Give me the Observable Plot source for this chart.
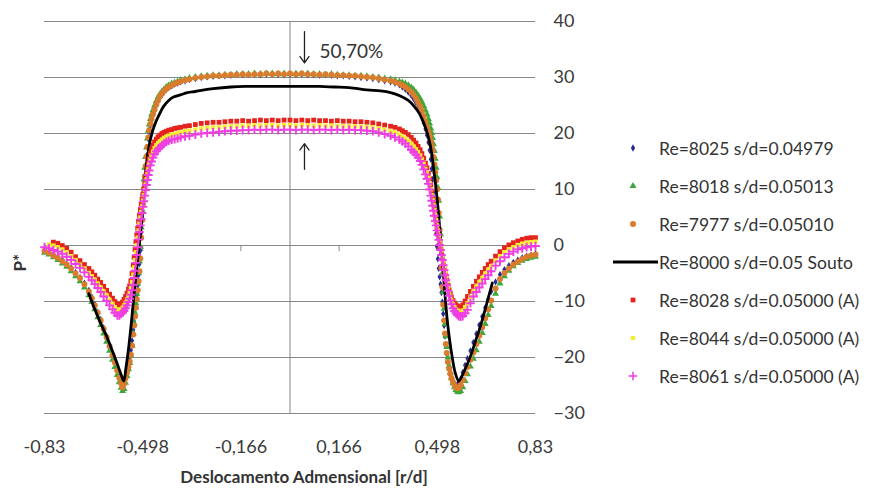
<!DOCTYPE html>
<html>
<head>
<meta charset="utf-8">
<script src="https://cdn.jsdelivr.net/npm/d3@7"></script>
<script src="https://cdn.jsdelivr.net/npm/@observablehq/plot@0.6"></script>
<style>
  html, body { margin: 0; padding: 0; background: #fff; }
  #wrap { position: relative; width: 876px; height: 494px; font-family: Lato, "Open Sans", sans-serif; }
  #chart { position: absolute; left: 0; top: 0; }
  #legend { position: absolute; left: 600px; top: 129px; }
  .row { position: relative; height: 38px; display: flex; align-items: center; }
  .row svg { width: 59px; height: 20px; flex: none; }
  .row span { font-size: 17.5px; color: #333; white-space: nowrap; }
</style>
</head>
<body>
<div id="wrap">
  <div id="chart"></div>
  <div id="legend"></div>
</div>
<script>
// Radial positions r/d shared by the six measured series
const xExp = [
  -0.83, -0.815, -0.8, -0.785, -0.77, -0.755, -0.74, -0.725, -0.71, -0.695,
  -0.68, -0.67, -0.66, -0.65, -0.64, -0.63, -0.62, -0.61, -0.6, -0.592,
  -0.584, -0.577, -0.571, -0.566, -0.561, -0.556, -0.551, -0.546, -0.542, -0.538,
  -0.534, -0.53, -0.527, -0.524, -0.521, -0.518, -0.515, -0.512, -0.509, -0.506,
  -0.503, -0.5, -0.497, -0.494, -0.491, -0.488, -0.485, -0.482, -0.479, -0.476,
  -0.472, -0.468, -0.463, -0.458, -0.452, -0.446, -0.44, -0.433, -0.426, -0.418,
  -0.41, -0.4, -0.39, -0.38, -0.37, -0.355, -0.34, -0.32, -0.3, -0.28,
  -0.26, -0.24, -0.22, -0.2, -0.18, -0.16, -0.14, -0.12, -0.1, -0.08,
  -0.06, -0.04, -0.02,
  0,
  0.02, 0.04, 0.06,
  0.08, 0.1, 0.12, 0.14, 0.16, 0.18, 0.2, 0.22, 0.24, 0.26,
  0.28, 0.3, 0.32, 0.34, 0.355, 0.37, 0.38, 0.39, 0.4, 0.41,
  0.418, 0.426, 0.433, 0.44, 0.446, 0.452, 0.458, 0.463, 0.468, 0.472,
  0.476, 0.479, 0.482, 0.485, 0.488, 0.491, 0.494, 0.497, 0.5, 0.503,
  0.506, 0.509, 0.512, 0.515, 0.518, 0.521, 0.524, 0.527, 0.53, 0.534,
  0.538, 0.542, 0.546, 0.551, 0.556, 0.561, 0.566, 0.571, 0.577, 0.584,
  0.592, 0.6, 0.61, 0.62, 0.63, 0.64, 0.65, 0.66, 0.67, 0.68,
  0.695, 0.71, 0.725, 0.74, 0.755, 0.77, 0.785, 0.8, 0.815, 0.83
];

// Re=8025 s/d=0.04979
const yRe8025 = [
  -0.8, -1.2, -1.6, -2.1, -2.6, -3.3, -4.0, -4.8, -5.7, -6.7,
  -8.0, -9.2, -10.5, -11.9, -13.2, -14.7, -16.2, -17.8, -19.4, -20.7,
  -22.1, -23.4, -24.4, -25.0, -24.5, -23.4, -22.3, -21.2, -20.0, -18.7,
  -17.0, -15.1, -13.6, -12.0, -10.4, -8.8, -7.1, -5.3, -3.3, -0.9,
  2.3, 5.2, 7.9, 10.4, 12.5, 14.3, 16.0, 17.5, 19.0, 20.3,
  21.4, 22.4, 23.3, 24.1, 25.0, 25.7, 26.4, 27.0, 27.5, 27.9,
  28.2, 28.5, 28.8, 29.0, 29.2, 29.4, 29.6, 29.8, 30.0, 30.1,
  30.2, 30.3, 30.3, 30.4, 30.5, 30.5, 30.5, 30.6, 30.5, 30.6,
  30.6, 30.6, 30.5,
  30.6,
  30.5, 30.6, 30.5,
  30.5, 30.4, 30.5, 30.4, 30.3, 30.3, 30.2, 30.1, 30.0, 29.9,
  29.8, 29.6, 29.4, 29.2, 29.0, 28.7, 28.3, 27.9, 27.4, 26.8,
  26.2, 25.5, 24.7, 23.8, 22.9, 21.9, 20.8, 19.7, 18.4, 17.0,
  15.4, 13.7, 11.8, 9.5, 7.0, 4.5, 2.1, -0.2, -2.4, -4.1,
  -5.6, -6.9, -8.4, -10.1, -12.2, -14.3, -16.2, -17.9, -19.4, -20.9,
  -22.0, -22.9, -23.6, -24.3, -24.7, -24.9, -24.8, -24.4, -23.8, -22.7,
  -21.4, -20.2, -18.8, -17.3, -15.8, -14.2, -12.7, -11.1, -9.6, -8.2,
  -6.5, -5.2, -4.3, -3.6, -3.0, -2.6, -2.2, -1.9, -1.7, -1.5
];

// Re=8018 s/d=0.05013
const yRe8018 = [
  -1.3, -1.6, -2.1, -2.6, -3.2, -3.8, -4.6, -5.5, -6.4, -7.5,
  -8.9, -10.1, -11.4, -12.8, -14.2, -15.7, -17.2, -18.8, -20.4, -21.7,
  -23.1, -24.4, -25.4, -26.0, -25.6, -24.5, -23.3, -22.1, -21.0, -19.7,
  -17.9, -15.7, -13.9, -12.1, -10.3, -8.6, -6.8, -4.9, -2.8, -0.2,
  3.2, 6.4, 9.3, 11.8, 13.9, 15.8, 17.5, 19.1, 20.5, 21.6,
  22.6, 23.4, 24.2, 25.0, 25.8, 26.5, 27.0, 27.5, 27.9, 28.3,
  28.6, 28.9, 29.1, 29.3, 29.5, 29.7, 29.9, 30.1, 30.2, 30.3,
  30.4, 30.4, 30.5, 30.5, 30.6, 30.6, 30.6, 30.7, 30.6, 30.7,
  30.7, 30.6, 30.7,
  30.6,
  30.7, 30.6, 30.7,
  30.6, 30.6, 30.5, 30.6, 30.5, 30.4, 30.4, 30.3, 30.3, 30.2,
  30.1, 30.0, 29.8, 29.7, 29.5, 29.3, 29.1, 28.9, 28.6, 28.2,
  27.8, 27.3, 26.8, 26.2, 25.6, 24.9, 24.1, 23.4, 22.6, 21.8,
  20.9, 20.1, 19.2, 18.1, 16.9, 15.5, 13.9, 12.2, 10.3, 8.0,
  5.2, 2.0, -1.5, -5.0, -8.3, -11.3, -14.0, -16.2, -18.1, -20.0,
  -21.5, -22.7, -23.7, -24.6, -25.3, -25.8, -26.1, -26.2, -26.0, -25.3,
  -24.2, -23.0, -21.6, -20.2, -18.7, -17.2, -15.6, -14.0, -12.4, -10.8,
  -8.6, -6.8, -5.5, -4.5, -3.7, -3.1, -2.7, -2.4, -2.2, -2.0
];

// Re=7977 s/d=0.05010
const yRe7977 = [
  -1.0, -1.3, -1.8, -2.2, -2.8, -3.4, -4.1, -5.0, -5.8, -6.9,
  -8.2, -9.4, -10.7, -12.0, -13.4, -14.9, -16.4, -18.0, -19.6, -20.9,
  -22.3, -23.6, -24.6, -25.3, -24.7, -23.7, -22.7, -21.7, -20.7, -19.5,
  -17.9, -15.9, -14.3, -12.7, -11.1, -9.6, -8.0, -6.4, -4.6, -2.3,
  1.4, 4.5, 7.4, 10.1, 12.3, 14.2, 15.9, 17.6, 19.3, 20.6,
  21.7, 22.6, 23.5, 24.3, 25.2, 25.9, 26.6, 27.1, 27.6, 28.0,
  28.3, 28.6, 28.9, 29.1, 29.3, 29.5, 29.7, 29.9, 30.1, 30.2,
  30.3, 30.3, 30.4, 30.5, 30.5, 30.6, 30.5, 30.6, 30.6, 30.7,
  30.6, 30.7, 30.6,
  30.7,
  30.6, 30.7, 30.6,
  30.6, 30.5, 30.6, 30.5, 30.4, 30.4, 30.3, 30.3, 30.2, 30.1,
  30.0, 29.8, 29.6, 29.4, 29.2, 28.9, 28.6, 28.3, 27.9, 27.4,
  26.9, 26.3, 25.6, 24.8, 24.0, 23.1, 22.1, 21.2, 20.3, 19.5,
  18.6, 17.8, 16.9, 15.8, 14.5, 13.1, 11.6, 10.0, 8.2, 5.8,
  2.8, -0.5, -4.0, -7.4, -10.6, -13.4, -15.7, -17.6, -19.2, -20.8,
  -22.0, -22.9, -23.7, -24.4, -24.9, -25.3, -25.5, -25.4, -24.9, -24.0,
  -22.8, -21.7, -20.4, -19.1, -17.6, -16.1, -14.6, -13.0, -11.4, -9.8,
  -7.7, -6.0, -4.9, -4.1, -3.4, -2.9, -2.4, -2.0, -1.8, -1.6
];

// Re=8000 s/d=0.05 Souto (reference curve)
const xSouto = [
  -0.68, -0.66, -0.64, -0.62, -0.6, -0.585, -0.572, -0.562, -0.555, -0.545,
  -0.536, -0.528, -0.52, -0.511, -0.505, -0.5, -0.494, -0.488, -0.48, -0.472,
  -0.463, -0.455, -0.44, -0.428, -0.41, -0.394, -0.37, -0.347, -0.32, -0.3,
  -0.26, -0.2, -0.15, -0.1, -0.05, 0, 0.05, 0.1, 0.15, 0.2,
  0.26, 0.306, 0.34, 0.373, 0.4, 0.419, 0.437, 0.452, 0.465, 0.475,
  0.485, 0.498, 0.511, 0.52, 0.526, 0.531, 0.54, 0.548, 0.558, 0.571,
  0.59, 0.61, 0.627, 0.644, 0.664, 0.684
];
const ySouto = [
  -8.6, -11.4, -13.9, -16.2, -18.9, -21.0, -22.9, -24.2, -22.0, -18.0,
  -13.6, -9.1, -5.0, -0.7, 2.4, 5.1, 10.0, 13.3, 16.6, 18.9,
  20.7, 21.9, 23.6, 24.8, 25.9, 26.5, 26.9, 27.3, 27.5, 27.7,
  28.0, 28.3, 28.4, 28.4, 28.4, 28.4, 28.4, 28.4, 28.3, 28.2,
  27.8, 27.6, 27.3, 26.7, 25.9, 24.9, 23.6, 21.9, 19.9, 17.7,
  14.0, 8.0, 0.0, -6.0, -10.0, -13.0, -17.0, -19.8, -22.6, -24.2,
  -22.3, -19.8, -17.1, -14.4, -10.6, -6.7
];

// Re=8028 s/d=0.05000 (A)
const yRe8028 = [
  null, null, 0.6, 0.4, 0.0, -0.5, -1.2, -2.0, -2.7, -3.4,
  -4.1, -4.7, -5.3, -6.0, -6.6, -7.3, -8.0, -8.7, -9.4, -10.0,
  -10.4, -10.7, -10.5, -10.1, -9.6, -9.1, -8.5, -7.8, -7.2, -6.3,
  -5.0, -3.5, -2.1, -0.7, 0.7, 1.9, 3.1, 4.3, 5.4, 6.4,
  7.4, 8.3, 9.2, 10.1, 11.0, 11.9, 12.8, 13.7, 14.6, 15.5,
  16.5, 17.2, 17.9, 18.5, 19.0, 19.4, 19.7, 20.0, 20.2, 20.4,
  20.6, 20.7, 20.9, 21.0, 21.1, 21.3, 21.4, 21.6, 21.8, 21.9,
  22.0, 22.0, 22.1, 22.2, 22.2, 22.3, 22.2, 22.3, 22.4, 22.3,
  22.4, 22.3, 22.4,
  22.4,
  22.3, 22.4, 22.3,
  22.4, 22.3, 22.3, 22.2, 22.3, 22.2, 22.2, 22.1, 22.1, 22.0,
  21.9, 21.7, 21.5, 21.3, 21.1, 20.8, 20.5, 20.2, 19.8, 19.3,
  18.8, 18.3, 17.7, 17.1, 16.4, 15.6, 14.7, 13.9, 12.9, 11.9,
  10.8, 9.6, 8.6, 7.5, 6.4, 5.3, 4.3, 3.3, 2.4, 1.5,
  0.5, -0.4, -1.3, -2.2, -3.0, -3.8, -4.6, -5.4, -6.2, -7.1,
  -7.9, -8.6, -9.2, -9.8, -10.3, -10.6, -10.8, -11.0, -11.0, -10.6,
  -9.9, -9.1, -8.2, -7.3, -6.4, -5.6, -4.8, -4.1, -3.4, -2.8,
  -1.9, -1.1, -0.4, 0.1, 0.5, 0.8, 1.1, 1.3, 1.4, 1.4
];

// Re=8044 s/d=0.05000 (A)
const yRe8044 = [
  null, 0.2, 0.0, -0.3, -0.7, -1.2, -1.9, -2.6, -3.4, -4.1,
  -4.9, -5.5, -6.1, -6.8, -7.5, -8.2, -8.9, -9.7, -10.4, -11.0,
  -11.4, -11.6, -11.4, -11.1, -10.7, -10.2, -9.6, -9.0, -8.4, -7.6,
  -6.5, -5.2, -3.9, -2.6, -1.2, 0.1, 1.4, 2.7, 3.9, 5.0,
  6.0, 7.0, 8.0, 9.0, 9.9, 10.9, 11.8, 12.7, 13.6, 14.5,
  15.4, 16.1, 16.8, 17.4, 17.9, 18.3, 18.6, 18.9, 19.2, 19.4,
  19.6, 19.8, 19.9, 20.0, 20.2, 20.4, 20.5, 20.7, 20.9, 21.0,
  21.1, 21.1, 21.2, 21.3, 21.3, 21.4, 21.4, 21.5, 21.4, 21.5,
  21.5, 21.4, 21.5,
  21.5,
  21.4, 21.5, 21.5,
  21.4, 21.5, 21.4, 21.4, 21.4, 21.3, 21.3, 21.3, 21.2, 21.2,
  21.1, 20.9, 20.7, 20.4, 20.2, 19.8, 19.5, 19.1, 18.7, 18.2,
  17.7, 17.2, 16.7, 16.1, 15.4, 14.6, 13.7, 12.9, 12.0, 11.0,
  10.0, 9.0, 8.1, 7.2, 6.3, 5.4, 4.5, 3.6, 2.7, 1.8,
  0.9, 0.0, -0.9, -1.9, -2.8, -3.7, -4.6, -5.5, -6.4, -7.4,
  -8.3, -9.1, -9.8, -10.5, -11.0, -11.4, -11.6, -11.8, -11.9, -11.6,
  -11.0, -10.3, -9.2, -8.2, -7.3, -6.5, -5.8, -5.0, -4.3, -3.7,
  -2.7, -1.9, -1.2, -0.7, -0.3, 0.1, 0.3, 0.5, 0.6, 0.7
];

// Re=8061 s/d=0.05000 (A)
const yRe8061 = [
  -0.3, -0.5, -0.8, -1.1, -1.5, -2.0, -2.6, -3.3, -4.0, -4.8,
  -5.6, -6.2, -6.9, -7.6, -8.3, -9.1, -9.9, -10.7, -11.4, -12.0,
  -12.5, -12.5, -12.2, -12.0, -11.7, -11.2, -10.7, -10.1, -9.5, -8.8,
  -8.0, -7.0, -5.8, -4.5, -3.1, -1.7, -0.3, 1.1, 2.4, 3.6,
  4.7, 5.8, 6.9, 7.9, 8.9, 9.9, 10.8, 11.7, 12.6, 13.4,
  14.3, 15.0, 15.7, 16.3, 16.8, 17.2, 17.5, 17.9, 18.2, 18.5,
  18.7, 18.9, 19.0, 19.1, 19.3, 19.5, 19.6, 19.8, 20.0, 20.1,
  20.2, 20.3, 20.4, 20.5, 20.5, 20.6, 20.6, 20.7, 20.6, 20.7,
  20.7, 20.6, 20.7,
  20.7,
  20.6, 20.7, 20.7,
  20.6, 20.7, 20.7, 20.6, 20.7, 20.6, 20.7, 20.6, 20.6, 20.5,
  20.4, 20.2, 19.9, 19.6, 19.3, 18.9, 18.6, 18.2, 17.7, 17.1,
  16.7, 16.2, 15.7, 15.1, 14.4, 13.6, 12.7, 11.9, 11.0, 10.0,
  8.9, 8.0, 7.1, 6.2, 5.3, 4.4, 3.6, 2.7, 1.9, 1.0,
  0.1, -0.8, -1.7, -2.6, -3.5, -4.4, -5.3, -6.2, -7.1, -8.1,
  -9.0, -9.8, -10.5, -11.2, -11.7, -12.1, -12.4, -12.6, -12.7, -12.6,
  -12.1, -11.5, -10.3, -9.1, -8.3, -7.5, -6.8, -6.0, -5.3, -4.6,
  -3.6, -2.8, -2.1, -1.5, -1.1, -0.7, -0.5, -0.3, -0.2, -0.1
];

// Axis ticks and their printed labels (decimal comma)
const xTicks = [-0.83, -0.498, -0.166, 0.166, 0.498, 0.83];
const xTickLabels = ["-0,83", "-0,498", "-0,166", "0,166", "0,498", "0,83"];
const yTicks = [-30, -20, -10, 0, 10, 20, 30, 40];

// Difference between the highest and lowest plateau, marked with two arrows
const gapLabel = "50,70%";
const gapArrows = [
  {x: 0.049, y1: 38.2, y2: 32.6},
  {x: 0.049, y1: 13.6, y2: 18.2}
];
const gapLabelPos = {x: 0.1, y: 34.6};

const xTitle = "Deslocamento Admensional [r/d]";
const yTitle = "P*";

// Series styling, in drawing order
const series = [
  {name: "Re=8025 s/d=0.04979", ys: yRe8025, symbol: "diamond", color: "#2a2a96", r: 2.2},
  {name: "Re=8018 s/d=0.05013", ys: yRe8018, symbol: "triangle", color: "#3da83a", r: 2.6},
  {name: "Re=7977 s/d=0.05010", ys: yRe7977, symbol: "circle", color: "#d97c2e", r: 3.0},
  {name: "Re=8000 s/d=0.05 Souto", line: true, color: "#000000"},
  {name: "Re=8028 s/d=0.05000 (A)", ys: yRe8028, symbol: "square", color: "#e5231d", r: 2.7},
  {name: "Re=8044 s/d=0.05000 (A)", ys: yRe8044, symbol: "square", color: "#f4ee2c", r: 2.4},
  {name: "Re=8061 s/d=0.05000 (A)", ys: yRe8061, symbol: "plus", color: "#ee3ee2", r: 2.9}
];

function pointsOf(xs, ys) {
  return xs.map((x, i) => ({x, y: ys[i]})).filter(d => d.y != null);
}

const seriesMarks = series.map(s => {
  if (s.line) {
    return Plot.line(pointsOf(xSouto, ySouto), {x: "x", y: "y", stroke: s.color, strokeWidth: 2.8, curve: "catmull-rom"});
  }
  const pts = pointsOf(xExp, s.ys);
  if (s.symbol === "plus") {
    return Plot.dot(pts, {x: "x", y: "y", symbol: "plus", r: s.r, stroke: s.color, strokeWidth: 1.9, fill: "none"});
  }
  return Plot.dot(pts, {x: "x", y: "y", symbol: s.symbol, r: s.r, fill: s.color, stroke: "none"});
});

const gridColor = "#878787";

const chart = Plot.plot({
  width: 876,
  height: 494,
  marginLeft: 44,
  marginRight: 341,
  marginTop: 21,
  marginBottom: 81,
  x: {domain: [-0.83, 0.83]},
  y: {domain: [-30, 40]},
  style: {fontFamily: "Lato, 'Open Sans', sans-serif", background: "#fff", color: "#333"},
  marks: [
    Plot.gridY(yTicks, {stroke: gridColor, strokeOpacity: 1, strokeWidth: 1}),
    Plot.ruleX([0], {stroke: gridColor, strokeWidth: 1}),
    Plot.ruleX(xTicks, {y1: 0, y2: -1.1, stroke: gridColor, strokeWidth: 1}),
    Plot.axisY(yTicks, {anchor: "right", tickSize: 0, tickPadding: 18, textAnchor: "start", fontSize: 18, fill: "#3a3a3a", label: null}),
    Plot.axisX(xTicks, {anchor: "bottom", tickSize: 0, tickPadding: 27, fontSize: 18, fill: "#3a3a3a", label: null,
      tickFormat: (d) => xTickLabels[xTicks.indexOf(d)]}),
    ...seriesMarks,
    Plot.arrow(gapArrows, {x: "x", y1: "y1", y2: "y2", stroke: "#222", strokeWidth: 1.3, headLength: 9, headAngle: 70}),
    Plot.text([gapLabel], {x: gapLabelPos.x, y: gapLabelPos.y, textAnchor: "start", fontSize: 19, fill: "#333"}),
    Plot.text([xTitle], {frameAnchor: "bottom", dx: 14, dy: 69, fontSize: 17, fontWeight: "bold", fill: "#333"}),
    Plot.text([yTitle], {frameAnchor: "left", dx: -24, dy: 54, rotate: -90, fontSize: 17, fontWeight: "bold", fill: "#333"})
  ]
});
document.getElementById("chart").appendChild(chart);

// Legend to the right of the plot
const legend = d3.select("#legend");
const symbolTypes = {diamond: d3.symbolDiamond, triangle: d3.symbolTriangle, circle: d3.symbolCircle, square: d3.symbolSquare, plus: d3.symbolPlus};
for (const s of series) {
  const row = legend.append("div").attr("class", "row");
  const svg = row.append("svg").attr("viewBox", "0 0 59 20");
  if (s.line) {
    svg.append("line").attr("x1", 13).attr("x2", 58).attr("y1", 10).attr("y2", 10)
      .attr("stroke", s.color).attr("stroke-width", 2.8);
  } else {
    const path = d3.symbol(symbolTypes[s.symbol], Math.PI * s.r * s.r)();
    const p = svg.append("path").attr("d", path).attr("transform", "translate(33,10)");
    if (s.symbol === "plus") p.attr("fill", "none").attr("stroke", s.color).attr("stroke-width", 1.6);
    else p.attr("fill", s.color);
  }
  row.append("span").text(s.name);
}
</script>
</body>
</html>
